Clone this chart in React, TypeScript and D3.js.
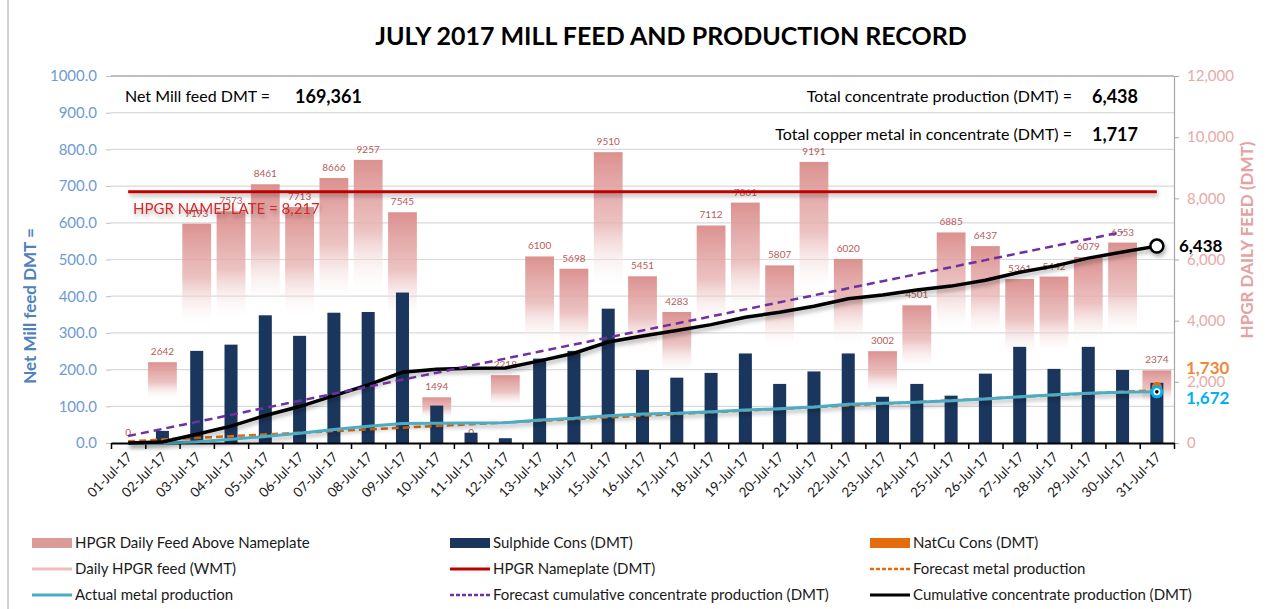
import { useEffect, useRef } from "react";
import * as d3 from "d3";

const days = [
  "01-Jul-17", "02-Jul-17", "03-Jul-17", "04-Jul-17", "05-Jul-17", "06-Jul-17", "07-Jul-17", "08-Jul-17",
  "09-Jul-17", "10-Jul-17", "11-Jul-17", "12-Jul-17", "13-Jul-17", "14-Jul-17", "15-Jul-17", "16-Jul-17",
  "17-Jul-17", "18-Jul-17", "19-Jul-17", "20-Jul-17", "21-Jul-17", "22-Jul-17", "23-Jul-17", "24-Jul-17",
  "25-Jul-17", "26-Jul-17", "27-Jul-17", "28-Jul-17", "29-Jul-17", "30-Jul-17", "31-Jul-17",
];

// HPGR daily feed (right axis, DMT)
const hpgrFeed = [
  0, 2642, 7173, 7573, 8461, 7713, 8666, 9257, 7545, 1494, 0, 2218, 6100, 5698, 9510, 5451,
  4283, 7112, 7861, 5807, 9191, 6020, 3002, 4501, 6885, 6437, 5361, 5442, 6079, 6553, 2374,
];

// Sulphide cons (left axis, DMT)
const sulphideCons = [
  0, 33, 251, 268, 348, 292, 355, 357, 410, 102, 28, 13, 230, 251, 366, 199,
  178, 191, 244, 161, 195, 244, 126, 161, 129, 189, 262, 202, 262, 199, 164,
];

// cumulative concentrate production (right axis)
const cumConc = [
  0, 33, 284, 552, 900, 1192, 1547, 1902, 2312, 2414, 2442, 2455, 2685, 2936, 3302, 3501,
  3679, 3870, 4114, 4275, 4470, 4714, 4840, 5001, 5130, 5319, 5581, 5783, 6045, 6244, 6438,
];

// forecast cumulative concentrate production (right axis), ends 30-Jul
const forecastConc: (number | null)[] = [
  230, 460, 690, 920, 1150, 1380, 1610, 1840, 2070, 2300, 2530, 2760, 2990, 3220, 3450, 3680,
  3910, 4140, 4370, 4600, 4830, 5060, 5290, 5520, 5750, 5980, 6210, 6440, 6670, 6900, null,
];

// actual metal production (right axis)
const actualMetal = [
  0, 0, 40, 120, 210, 320, 440, 550, 640, 644, 650, 664, 752, 807, 893, 948,
  970, 1025, 1079, 1123, 1180, 1265, 1298, 1331, 1384, 1439, 1514, 1580, 1625, 1657, 1672,
];

// forecast metal production (right axis)
const forecastMetal = [
  56, 112, 167, 223, 279, 335, 391, 446, 502, 558, 614, 670, 725, 781, 837, 893,
  949, 1005, 1060, 1116, 1172, 1228, 1284, 1339, 1395, 1451, 1507, 1563, 1618, 1674, 1730,
];

const nameplate = 8217;

const legendItems = [
  { label: "HPGR Daily Feed Above Nameplate", kind: "rect", color: "#dc9a98" },
  { label: "Sulphide Cons (DMT)", kind: "rect", color: "#1b365d" },
  { label: "NatCu Cons (DMT)", kind: "rect", color: "#e46c0a" },
  { label: "Daily HPGR feed (WMT)", kind: "line", color: "#f0bcbc" },
  { label: "HPGR Nameplate (DMT)", kind: "line", color: "#c00000" },
  { label: "Forecast metal production", kind: "dash", color: "#e46c0a" },
  { label: "Actual metal production", kind: "line", color: "#4bacc6" },
  { label: "Forecast cumulative concentrate production (DMT)", kind: "dash", color: "#7030a0" },
  { label: "Cumulative concentrate production (DMT)", kind: "line", color: "#000000" },
];

const FONT = "Lato, 'Open Sans', sans-serif";

export default function App() {
  const svgRef = useRef<SVGSVGElement>(null);

  useEffect(() => {
    if (!svgRef.current) return;
    const W = 1266;
    const H = 609;
    const plot = { left: 111, right: 1174, top: 76, bottom: 443 };

    const svg = d3.select(svgRef.current);
    svg.selectAll("*").remove();
    svg.attr("font-family", FONT);

    const defs = svg.append("defs");
    const grad = defs
      .append("linearGradient")
      .attr("id", "pinkGrad")
      .attr("x1", 0).attr("y1", 0).attr("x2", 0).attr("y2", 1);
    grad.append("stop").attr("offset", "0%").attr("stop-color", "#d98c8a").attr("stop-opacity", 0.95);
    grad.append("stop").attr("offset", "25%").attr("stop-color", "#e7b3b2").attr("stop-opacity", 0.8);
    grad.append("stop").attr("offset", "48%").attr("stop-color", "#ffffff").attr("stop-opacity", 0);
    grad.append("stop").attr("offset", "100%").attr("stop-color", "#ffffff").attr("stop-opacity", 0);

    const shadow = defs
      .append("filter")
      .attr("id", "shadow")
      .attr("filterUnits", "userSpaceOnUse")
      .attr("x", 0).attr("y", 0).attr("width", W).attr("height", H);
    shadow
      .append("feDropShadow")
      .attr("dx", 1.5).attr("dy", 3).attr("stdDeviation", 2)
      .attr("flood-color", "#000").attr("flood-opacity", 0.3);

    // frame
    svg.append("line").attr("x1", 8).attr("x2", 8).attr("y1", 0).attr("y2", H).attr("stroke", "#a6a6a6");

    // title
    svg
      .append("text")
      .attr("x", 671)
      .attr("y", 45)
      .attr("text-anchor", "middle")
      .attr("font-size", 25)
      .attr("font-weight", 700)
      .attr("fill", "#000")
      .text("JULY 2017 MILL FEED AND PRODUCTION RECORD");

    const x = d3.scaleBand<string>().domain(days).range([plot.left, plot.right]).padding(0);
    const xEdge = d3.scaleLinear().domain([0, days.length]).range([plot.left, plot.right]);
    const yL = d3.scaleLinear().domain([0, 1000]).range([plot.bottom, plot.top]);
    const yR = d3.scaleLinear().domain([0, 12000]).range([plot.bottom, plot.top]);
    const cx = (d: string) => (x(d) as number) + x.bandwidth() / 2;

    // gridlines
    svg
      .append("g")
      .selectAll("line")
      .data(d3.range(100, 1000, 100))
      .join("line")
      .attr("x1", plot.left)
      .attr("x2", plot.right)
      .attr("y1", (d) => yL(d))
      .attr("y2", (d) => yL(d))
      .attr("stroke", "#d9d9d9")
      .attr("stroke-width", 1.2);
    svg
      .append("line")
      .attr("x1", plot.left).attr("x2", plot.right)
      .attr("y1", plot.top).attr("y2", plot.top)
      .attr("stroke", "#7f7f7f").attr("stroke-width", 1.2);

    // left axis
    const gL = svg
      .append("g")
      .attr("transform", `translate(${plot.left},0)`)
      .call(d3.axisLeft(yL).tickValues(d3.range(0, 1001, 100)).tickFormat(d3.format(".1f")).tickSize(5).tickPadding(9));
    gL.select(".domain").remove();
    gL.selectAll("line").attr("stroke", "#bfbfbf");
    gL.selectAll("text").attr("fill", "#6f9bd2").attr("font-size", 15).attr("font-family", FONT);

    // right axis
    const gR = svg
      .append("g")
      .attr("transform", `translate(${plot.right},0)`)
      .call(d3.axisRight(yR).tickValues(d3.range(0, 12001, 2000)).tickFormat(d3.format(",")).tickSize(5).tickPadding(8));
    gR.select(".domain").attr("stroke", "#a6a6a6").attr("stroke-width", 1.2);
    gR.selectAll("line").attr("stroke", "#a6a6a6");
    gR.selectAll("text").attr("fill", "#e8a9a7").attr("font-size", 15).attr("font-family", FONT);

    // axis titles
    svg
      .append("text")
      .attr("transform", `translate(36,306) rotate(-90)`)
      .attr("text-anchor", "middle")
      .attr("font-size", 17)
      .attr("font-weight", 700)
      .attr("fill", "#4f81bd")
      .text("Net Mill feed DMT =");
    svg
      .append("text")
      .attr("transform", `translate(1253,240) rotate(-90)`)
      .attr("text-anchor", "middle")
      .attr("font-size", 17)
      .attr("font-weight", 700)
      .attr("fill", "#e4a3a2")
      .text("HPGR DAILY FEED (DMT)");

    // info texts
    const info = svg.append("g").attr("fill", "#000");
    info.append("text").attr("x", 125).attr("y", 102).attr("font-size", 16).text("Net Mill feed DMT =");
    info.append("text").attr("x", 295).attr("y", 103).attr("font-size", 18).attr("font-weight", 700).text("169,361");
    info.append("text").attr("x", 1072).attr("y", 102).attr("text-anchor", "end").attr("font-size", 16).text("Total concentrate production (DMT) =");
    info.append("text").attr("x", 1092).attr("y", 103).attr("font-size", 18).attr("font-weight", 700).text("6,438");
    info.append("text").attr("x", 1072).attr("y", 140).attr("text-anchor", "end").attr("font-size", 16).text("Total copper metal in concentrate (DMT) =");
    info.append("text").attr("x", 1092).attr("y", 141).attr("font-size", 18).attr("font-weight", 700).text("1,717");

    // HPGR bars
    const pinkW = x.bandwidth() * 0.84;
    svg
      .append("g")
      .selectAll("rect")
      .data(hpgrFeed)
      .join("rect")
      .attr("x", (_, i) => cx(days[i]) - pinkW / 2)
      .attr("width", pinkW)
      .attr("y", (d) => yR(d))
      .attr("height", (d) => yR(0) - yR(d))
      .attr("fill", "url(#pinkGrad)");
    svg
      .append("g")
      .selectAll("text")
      .data(hpgrFeed)
      .join("text")
      .attr("x", (_, i) => cx(days[i]))
      .attr("y", (d) => yR(d) - 7)
      .attr("text-anchor", "middle")
      .attr("font-size", 10)
      .attr("fill", "#b85c5a")
      .text((d) => String(d));

    // sulphide bars
    const navyW = x.bandwidth() * 0.38;
    svg
      .append("g")
      .selectAll("rect")
      .data(sulphideCons)
      .join("rect")
      .attr("x", (_, i) => cx(days[i]) - navyW / 2)
      .attr("width", navyW)
      .attr("y", (d) => yL(d))
      .attr("height", (d) => yL(0) - yL(d))
      .attr("fill", "#1b365d");

    // x axis
    const gX = svg
      .append("g")
      .attr("transform", `translate(0,${plot.bottom})`)
      .call(d3.axisBottom(xEdge).tickValues(d3.range(0, days.length + 1)).tickFormat(() => "").tickSize(6).tickSizeOuter(0));
    gX.select(".domain").attr("stroke", "#000").attr("stroke-width", 2.2);
    gX.selectAll("line").attr("stroke", "#000").attr("stroke-width", 1.5);
    svg
      .append("g")
      .selectAll("text")
      .data(days)
      .join("text")
      .attr("transform", (d) => `translate(${cx(d) + 5},${plot.bottom + 15}) rotate(-45)`)
      .attr("text-anchor", "end")
      .attr("font-size", 13.5)
      .attr("fill", "#1a1a1a")
      .text((d) => d);

    // nameplate line
    const lineGen = (scale: d3.ScaleLinear<number, number>) =>
      d3
        .line<number | null>()
        .defined((d) => d !== null)
        .x((_, i) => cx(days[i]))
        .y((d) => scale(d as number));

    svg
      .append("path")
      .datum(days.map(() => nameplate))
      .attr("d", lineGen(yR))
      .attr("fill", "none")
      .attr("stroke", "#c00000")
      .attr("stroke-width", 3)
      .attr("filter", "url(#shadow)");
    svg
      .append("text")
      .attr("x", 133)
      .attr("y", 214)
      .attr("font-size", 15)
      .attr("fill", "#d42a2a")
      .attr("filter", "url(#shadow)")
      .text("HPGR NAMEPLATE = 8,217");

    // forecast metal
    svg
      .append("path")
      .datum(forecastMetal)
      .attr("d", lineGen(yR))
      .attr("fill", "none")
      .attr("stroke", "#e46c0a")
      .attr("stroke-width", 2.5)
      .attr("stroke-dasharray", "7,4");

    // actual metal
    svg
      .append("path")
      .datum(actualMetal)
      .attr("d", lineGen(yR))
      .attr("fill", "none")
      .attr("stroke", "#4bacc6")
      .attr("stroke-width", 3)
      .attr("filter", "url(#shadow)");

    // cumulative concentrate
    svg
      .append("path")
      .datum(cumConc)
      .attr("d", lineGen(yR))
      .attr("fill", "none")
      .attr("stroke", "#000")
      .attr("stroke-width", 3.5)
      .attr("filter", "url(#shadow)");

    // forecast cumulative
    svg
      .append("path")
      .datum(forecastConc)
      .attr("d", lineGen(yR))
      .attr("fill", "none")
      .attr("stroke", "#7030a0")
      .attr("stroke-width", 2.5)
      .attr("stroke-dasharray", "8,5");

    // end markers and labels
    const last = days.length - 1;
    const lx = cx(days[last]);
    svg
      .append("circle")
      .attr("cx", lx).attr("cy", yR(forecastMetal[last]) - 3).attr("r", 5)
      .attr("fill", "#e46c0a");
    svg
      .append("circle")
      .attr("cx", lx).attr("cy", yR(actualMetal[last])).attr("r", 5)
      .attr("fill", "#fff").attr("stroke", "#00b0f0").attr("stroke-width", 3);
    svg
      .append("circle")
      .attr("cx", lx).attr("cy", yR(actualMetal[last])).attr("r", 1.8)
      .attr("fill", "#000");
    svg
      .append("circle")
      .attr("cx", lx).attr("cy", yR(cumConc[last])).attr("r", 6.5)
      .attr("fill", "#fff").attr("stroke", "#000").attr("stroke-width", 2.5)
      .attr("filter", "url(#shadow)");

    svg.append("text").attr("x", 1179).attr("y", yR(cumConc[last]) + 6).attr("font-size", 17).attr("font-weight", 700).attr("fill", "#000").text("6,438");
    svg.append("text").attr("x", 1186).attr("y", 374).attr("font-size", 17).attr("font-weight", 700).attr("fill", "#f0883a").text("1,730");
    svg.append("text").attr("x", 1186).attr("y", 404).attr("font-size", 17).attr("font-weight", 700).attr("fill", "#00b0f0").text("1,672");

    // legend
    const colX = [32, 450, 870];
    const rowY = [543, 569, 595];
    const lg = svg.append("g");
    legendItems.forEach((item, i) => {
      const gx = colX[i % 3];
      const gy = rowY[Math.floor(i / 3)];
      const g = lg.append("g").attr("transform", `translate(${gx},${gy})`);
      if (item.kind === "rect") {
        g.append("rect").attr("x", 0).attr("y", -5).attr("width", 40).attr("height", 10).attr("fill", item.color);
      } else {
        g.append("line")
          .attr("x1", 0).attr("x2", 40).attr("y1", 0).attr("y2", 0)
          .attr("stroke", item.color)
          .attr("stroke-width", item.kind === "dash" ? 2.5 : 3)
          .attr("stroke-dasharray", item.kind === "dash" ? "4,2" : null);
      }
      g.append("text").attr("x", 43).attr("y", 5).attr("font-size", 15).attr("fill", "#1a1a1a").text(item.label);
    });
  }, []);

  return (
    <svg
      ref={svgRef}
      width={1266}
      height={609}
      style={{ position: "absolute", left: 0, top: 0, background: "#fff" }}
    />
  );
}
